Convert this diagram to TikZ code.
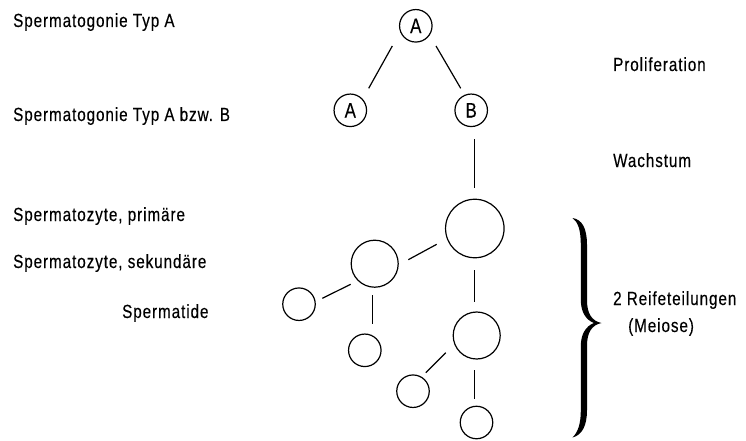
\documentclass[tikz,border=0pt]{standalone}
\usepackage{fontspec}
\setmainfont{Liberation Sans}[FakeStretch=0.8,LetterSpace=5,FakeBold=0.3]
\usetikzlibrary{calc}
\begin{document}
\begin{tikzpicture}[x=1pt,y=-1pt,
  lbl/.style={anchor=base west,inner sep=0pt,font=\fontsize{19}{21}\selectfont},
  cell/.style={circle,draw,line width=1.2pt,inner sep=0pt,font=\fontsize{21}{22}\selectfont},
  small/.style={cell,minimum size=32.5pt},
  mid/.style={cell,minimum size=47pt},
  big/.style={cell,minimum size=58.5pt},
  link/.style={line width=1.2pt}]
\useasboundingbox (0,0) rectangle (746,441);
% cells
\node[small] (a0) at (415.8,25.8) {A};
\node[small] (a1) at (350.3,110.3) {A};
\node[small] (b)  at (471.2,110.3) {B};
\node[big]   (p)  at (474.8,228.5) {};
\node[mid]   (s1) at (374.7,263.7) {};
\node[mid]   (s2) at (476.7,335.5) {};
\node[small] (t1) at (299,304.2) {};
\node[small] (t2) at (364.8,350.3) {};
\node[small] (t3) at (413,391.2) {};
\node[small] (t4) at (476.5,422.5) {};
% connectors
\draw[link] ($(a0)+(-23.5,20.2)$) -- ($(a1)+(18.4,-22)$);
\draw[link] ($(a0)+(20.2,20.2)$) -- ($(b)+(-10.5,-22)$);
\draw[link] ($(b)+(3.1,29)$) -- ($(p)+(-0.5,-40.2)$);
\draw[link] ($(p)+(-38.1,15.8)$) -- ($(s1)+(33.6,-4)$);
\draw[link] ($(p)+(-0.5,41.5)$) -- ($(s2)+(-2.4,-33.2)$);
\draw[link] ($(s1)+(-24,20.6)$) -- ($(t1)+(23.3,-5.9)$);
\draw[link] ($(s1)+(-2,31.3)$) -- ($(t2)+(7.9,-26.3)$);
\draw[link] ($(s2)+(-31,17.2)$) -- ($(t3)+(12.7,-18.5)$);
\draw[link] ($(s2)+(-2.4,34.5)$) -- ($(t4)+(-2.2,-23.2)$);
% labels
\node[lbl] (l1) at (13,27) {Spermatogonie Typ A};
\node[lbl] (l2) at (13,121) {Spermatogonie Typ A bzw. B};
\node[lbl] (l3) at (13,221) {Spermatozyte, primäre};
\node[lbl] (l4) at (13,268) {Spermatozyte, sekundäre};
\node[lbl] (l5) at (122,318) {Spermatide};
\node[lbl] (r1) at (613,71) {Proliferation};
\node[lbl] (r2) at (613,167) {Wachstum};
\node[lbl] (r3) at (613,305) {2 Reifeteilungen};
\node[lbl] (r4) at (628,332) {(Meiose)};
% brace
\fill (572.5,218) .. controls (582,219.5) and (587,228) .. (587,245)
  -- (587,300) .. controls (587,314) and (592,321) .. (601.5,323)
  .. controls (592,325) and (587,332) .. (587,346)
  -- (587,410) .. controls (587,426) and (582,435) .. (572.5,437.5)
  .. controls (578,432) and (580.8,424) .. (580.8,410)
  -- (580.8,346) .. controls (580.8,334) and (586,326) .. (594,323)
  .. controls (586,320) and (580.8,312) .. (580.8,300)
  -- (580.8,245) .. controls (580.8,230) and (578,222) .. (572.5,218) -- cycle;
\end{tikzpicture}
\end{document}
